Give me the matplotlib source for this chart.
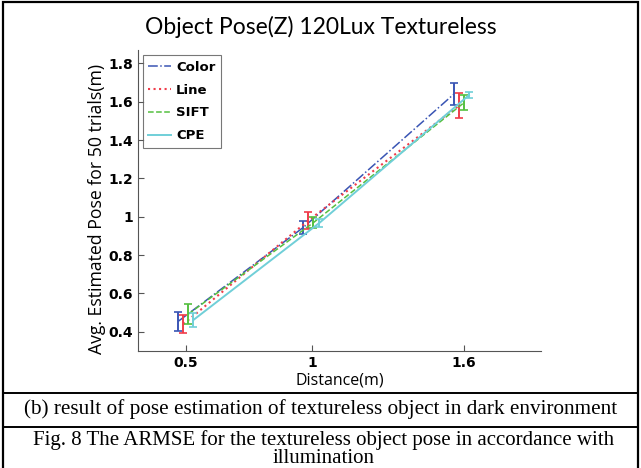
import numpy as np
import matplotlib.pyplot as plt
from matplotlib.lines import Line2D
from matplotlib.patches import Rectangle

# distance groups (m), each series slightly shifted in x
x_color = [0.47, 0.965, 1.56]
x_line = [0.49, 0.985, 1.58]
x_sift = [0.51, 1.005, 1.60]
x_cpe = [0.53, 1.028, 1.62]

# mean estimated pose and error half-width
y_color = [0.455, 0.945, 1.640]
e_color = [0.050, 0.034, 0.057]
y_line = [0.440, 0.981, 1.580]
e_line = [0.047, 0.045, 0.065]
y_sift = [0.493, 0.970, 1.595]
e_sift = [0.052, 0.030, 0.040]
y_cpe = [0.462, 0.968, 1.635]
e_cpe = [0.036, 0.023, 0.015]

xticks = [0.5, 1, 1.6]
xticklabels = ['0.5', '1', '1.6']
yticks = [0.4, 0.6, 0.8, 1.0, 1.2, 1.4, 1.6, 1.8]
yticklabels = ['0.4', '0.6', '0.8', '1', '1.2', '1.4', '1.6', '1.8']

fig = plt.figure(figsize=(6.41, 4.68), dpi=100)
ax = fig.add_axes([0.215, 0.25, 0.629, 0.643])

series = [
    ('Color', x_color, y_color, e_color, '#3a55b4', '-.', 1.1),
    ('Line', x_line, y_line, e_line, '#f03c4a', ':', 1.5),
    ('SIFT', x_sift, y_sift, e_sift, '#55c040', '--', 1.1),
    ('CPE', x_cpe, y_cpe, e_cpe, '#70cfd8', '-', 1.4),
]
for name, xs, ys, es, c, ls, lw in series:
    ax.plot(xs, ys, color=c, ls=ls, lw=lw, label=name)
    ax.errorbar(xs, ys, yerr=es, fmt='none', ecolor=c, capsize=3,
                elinewidth=1.4, capthick=1.2)

ax.set_xlim(0.31, 1.905)
ax.set_ylim(0.3, 1.87)
ax.set_xticks(xticks)
ax.set_xticklabels(xticklabels, fontweight='bold', fontsize=10)
ax.set_yticks(yticks)
ax.set_yticklabels(yticklabels, fontweight='bold', fontsize=10)
ax.tick_params(direction='in', length=4, color='#555555')
ax.spines['top'].set_visible(False)
ax.spines['right'].set_visible(False)
ax.spines['left'].set_color('#555555')
ax.spines['bottom'].set_color('#555555')

ax.set_xlabel('Distance(m)', fontsize=11.5, family='Open Sans', labelpad=2)
ax.set_ylabel('Avg. Estimated Pose for 50 trials(m)', fontsize=12.7,
              family='Open Sans')
ax.yaxis.set_label_coords(-0.078, 0.473)

leg = ax.legend(loc='upper left', prop={'weight': 'bold', 'size': 9.5},
                fancybox=False, edgecolor='#555555', handlelength=1.7,
                handletextpad=0.4, borderaxespad=0.4, labelspacing=0.75)
leg.get_frame().set_linewidth(0.8)

fig.text(0.5, 0.942, 'Object Pose(Z) 120Lux Textureless', ha='center',
         va='center', fontsize=16.5, family='Lato')

# caption table
serif = 'Liberation Serif'
fig.text(0.5, 0.126, '(b) result of pose estimation of textureless object in dark environment',
         ha='center', va='center', fontsize=15.3, family=serif)
fig.text(0.505, 0.040,
         'Fig. 8 The ARMSE for the textureless object pose in accordance with\nillumination',
         ha='center', va='center', multialignment='center', fontsize=15.0,
         family=serif, linespacing=0.95)

fig.add_artist(Rectangle((0.004, -0.01), 0.992, 1.006, transform=fig.transFigure,
                         fill=False, lw=1.6, edgecolor='black'))
fig.add_artist(Line2D([0.004, 0.996], [0.160, 0.160], transform=fig.transFigure,
                      color='black', lw=1.4))
fig.add_artist(Line2D([0.004, 0.996], [0.088, 0.088], transform=fig.transFigure,
                      color='black', lw=1.4))

fig.savefig('out.png', dpi=100)
